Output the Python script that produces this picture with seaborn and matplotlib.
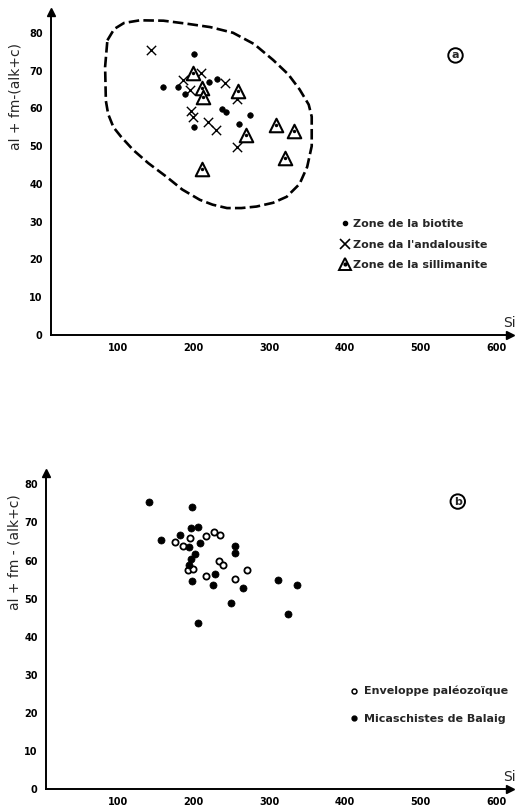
import matplotlib
matplotlib.use("Agg")
import matplotlib.pyplot as plt
from matplotlib.lines import Line2D
import seaborn as sns
import pandas as pd

# ---------------- data (panel a) ----------------
biotite_si = [159, 179, 188, 201, 220, 231, 238, 243, 275, 260, 201]
biotite_y = [65.6, 65.6, 63.8, 74.3, 66.9, 67.7, 59.8, 58.9, 58.3, 55.9, 55.1]

andalousite_si = [144, 186, 195, 210, 241, 257, 196, 199, 219, 230, 257]
andalousite_y = [75.5, 67.5, 64.9, 69.3, 66.7, 62.4, 59.2, 57.8, 56.5, 54.3, 49.7]

sillimanite_si = [199.5, 210.5, 212, 259, 269, 309, 332.5, 320.6, 210.5]
sillimanite_y = [69.3, 65.3, 63.1, 64.7, 53.0, 55.6, 53.9, 46.8, 43.9]

# dashed envelope drawn around the points of panel a
envelope_si = [86, 95, 108, 129, 160, 191, 222, 252, 280, 305, 325, 340, 352, 356, 356,
               350, 340, 323, 305, 283, 263, 244, 225, 208, 185, 164, 140, 120, 104,
               94, 87, 84, 83, 86]
envelope_y = [78, 81, 82.6, 83.3, 83.2, 82.4, 81.5, 80, 77, 72.8, 69, 65, 61, 57.8, 50,
              44.5, 40, 36.6, 35, 34, 33.6, 33.6, 34.5, 35.8, 38.5, 41.9, 45.5, 49, 52.5,
              55, 58.5, 62, 71, 78]

# ---------------- data (panel b) ----------------
balaig_si = [141, 198, 196.5, 205.7, 156.8, 181.5, 194.2, 208.3, 202, 196.4, 193.8,
             255, 254.6, 227.7, 197.3, 225, 265.5, 250, 311, 337, 325, 205.7]
balaig_y = [75.5, 74, 68.6, 68.8, 65.3, 66.8, 63.6, 64.7, 61.6, 60.4, 58.9,
            63.8, 62, 56.6, 54.7, 53.7, 52.8, 48.9, 54.8, 53.5, 46, 43.6]

paleo_si = [175.3, 185.4, 195, 217, 226.8, 234.3, 233.8, 239, 192, 199.5, 216.7, 254.6, 270.8]
paleo_y = [65, 63.9, 65.9, 66.5, 67.4, 66.8, 59.9, 58.9, 57.5, 57.9, 56, 55.2, 57.6]

x_ticks = [100, 200, 300, 400, 500, 600]
y_ticks = [0, 10, 20, 30, 40, 50, 60, 70, 80]
ylabel_a = "al + fm-(alk+c)"
ylabel_b = "al + fm - (alk+c)"
legend_a = ["Zone de la biotite", "Zone da l'andalousite", "Zone de la sillimanite"]
legend_b = ["Enveloppe paléozoïque", "Micaschistes de Balaig"]

# ---------------- figure ----------------
sns.set_style("white")
plt.rcParams["font.family"] = ["DejaVu Sans"]

W, H = 526, 810
fig = plt.figure(figsize=(W / 100, H / 100), dpi=100)
fig.patch.set_facecolor("white")

def px_axes(l, r, b, t):
    return fig.add_axes([l / W, 1 - b / H, (r - l) / W, (b - t) / H])

ax_a = px_axes(51, 510, 335, 12)
ax_b = px_axes(46, 510, 789, 473)

ax_a.set_xlim(11.5, 618)
ax_a.set_ylim(0, 85.5)
ax_b.set_xlim(5, 618)
ax_b.set_ylim(0, 83)


def style_axes(ax, ylabel, lab_x, lab_y):
    for s in ("top", "right"):
        ax.spines[s].set_visible(False)
    for s in ("left", "bottom"):
        ax.spines[s].set_linewidth(1.4)
        ax.spines[s].set_color("black")
    ax.set_facecolor("white")
    ax.set_xticks(x_ticks)
    ax.set_xticklabels([str(v) for v in x_ticks])
    ax.set_yticks(y_ticks)
    ax.set_yticklabels([str(v) for v in y_ticks])
    ax.tick_params(axis="both", direction="inout", length=6, width=1.1,
                   labelsize=7, colors="black")
    ax.tick_params(axis="x", pad=3)
    ax.tick_params(axis="y", pad=3)
    for lab in ax.get_xticklabels() + ax.get_yticklabels():
        lab.set_fontweight("bold")
    ax.set_xlabel("")
    ax.set_ylabel(ylabel, fontsize=10)
    ax.yaxis.set_label_coords(lab_x, lab_y)
    # arrows
    ax.plot(1, 0, marker=">", color="k", ms=6, transform=ax.transAxes, clip_on=False)
    ax.plot(0, 1, marker="^", color="k", ms=6, transform=ax.transAxes, clip_on=False)
    ax.text(0.985, 0.015, "Si", transform=ax.transAxes, fontsize=10,
            ha="left", va="bottom")
    ax.grid(False)


# ---- panel a ----
df_bio = pd.DataFrame({"Si": biotite_si, "v": biotite_y})
df_and = pd.DataFrame({"Si": andalousite_si, "v": andalousite_y})
df_sil = pd.DataFrame({"Si": sillimanite_si, "v": sillimanite_y})

ax_a.plot(envelope_si, envelope_y, color="black", lw=1.9,
          linestyle=(0, (4, 1.6)), solid_capstyle="butt")
sns.scatterplot(data=df_bio, x="Si", y="v", ax=ax_a, marker="o", color="black",
                s=16, edgecolor="black", linewidth=0.5, legend=False)
sns.scatterplot(data=df_and, x="Si", y="v", ax=ax_a, marker="x", color="black",
                s=45, linewidth=1.0, legend=False)
sns.scatterplot(data=df_sil, x="Si", y="v", ax=ax_a, marker="^", color="white",
                s=95, edgecolor="black", linewidth=1.5, legend=False)
sns.scatterplot(data=df_sil, x="Si", y="v", ax=ax_a, marker="o", color="black",
                s=6, linewidth=0, legend=False)
style_axes(ax_a, ylabel_a, -0.063, 0.737)

ax_a.text(546, 74, "a", fontsize=8, fontweight="bold", ha="center", va="center",
          bbox=dict(boxstyle="circle,pad=0.2", fc="white", ec="black", lw=1.4))

h_bio = Line2D([], [], marker="o", ls="", color="k", ms=3)
h_and = Line2D([], [], marker="x", ls="", color="k", ms=7, mew=1.2)
h_sil = (Line2D([], [], marker="^", ls="", mfc="white", mec="k", ms=9, mew=1.4),
         Line2D([], [], marker="o", ls="", color="k", ms=2))
fig.legend([h_bio, h_and, h_sil], legend_a, loc="upper left",
           bbox_to_anchor=(340 / W, 1 - 219 / H), frameon=False,
           prop=dict(size=8, weight="bold"), handlelength=0.9, handletextpad=0.3,
           labelspacing=0.95, borderpad=0, borderaxespad=0)

# ---- panel b ----
df_pal = pd.DataFrame({"Si": paleo_si, "v": paleo_y})
df_bal = pd.DataFrame({"Si": balaig_si, "v": balaig_y})
sns.scatterplot(data=df_pal, x="Si", y="v", ax=ax_b, marker="o", color="white",
                s=20, edgecolor="black", linewidth=1.3, legend=False)
sns.scatterplot(data=df_bal, x="Si", y="v", ax=ax_b, marker="o", color="black",
                s=26, edgecolor="black", linewidth=0.5, legend=False)
style_axes(ax_b, ylabel_b, -0.052, 0.75)

ax_b.text(549, 75.5, "b", fontsize=8, fontweight="bold", ha="center", va="center",
          bbox=dict(boxstyle="circle,pad=0.2", fc="white", ec="black", lw=1.4))

h_pal = Line2D([], [], marker="o", ls="", mfc="white", mec="k", ms=3.5, mew=1.1)
h_bal = Line2D([], [], marker="o", ls="", color="k", ms=3.5)
fig.legend([h_pal, h_bal], legend_b, loc="upper left",
           bbox_to_anchor=(350 / W, 1 - 686 / H), frameon=False,
           prop=dict(size=8, weight="bold"), handlelength=0.8, handletextpad=0.5,
           labelspacing=1.55, borderpad=0, borderaxespad=0)

fig.savefig("out.png", dpi=100, facecolor="white")
